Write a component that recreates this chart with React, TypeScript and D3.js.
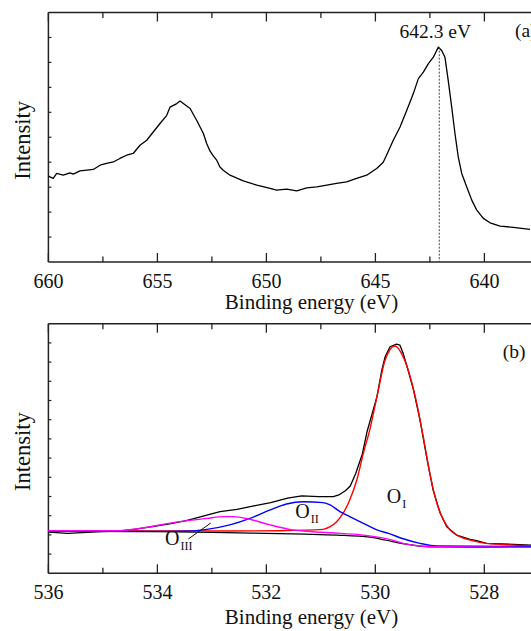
import React from "react";
import * as d3 from "d3";

// Mn 2p spectrum (panel a): binding energy (eV) and intensity (a.u.)
const mnBE = [660.0, 659.78, 659.62, 659.32, 659.01, 658.86, 658.55, 658.24, 657.94, 657.63, 657.33, 657.02, 656.72, 656.41, 656.11, 655.8, 655.49, 655.19, 654.88, 654.57, 654.42, 654.11, 653.96, 653.81, 653.5, 653.2, 652.89, 652.74, 652.59, 652.44, 652.28, 652.13, 651.98, 651.67, 651.06, 650.44, 649.83, 649.53, 649.07, 648.61, 648.15, 647.69, 647.23, 646.78, 646.32, 645.86, 645.4, 644.94, 644.64, 644.48, 644.18, 643.87, 643.56, 643.26, 643.03, 642.8, 642.57, 642.34, 642.19, 642.11, 641.96, 641.81, 641.66, 641.5, 641.35, 641.2, 641.04, 640.81, 640.58, 640.35, 640.05, 639.74, 639.28, 638.67, 637.91];
const mnInt = [3.44, 3.35, 3.55, 3.48, 3.57, 3.52, 3.65, 3.68, 3.71, 3.88, 3.95, 4.01, 4.15, 4.28, 4.35, 4.68, 4.88, 5.21, 5.55, 5.88, 6.21, 6.35, 6.45, 6.35, 6.15, 5.68, 5.15, 4.75, 4.45, 4.25, 4.08, 3.81, 3.68, 3.48, 3.25, 3.08, 2.95, 2.88, 2.92, 2.85, 2.97, 3.01, 3.08, 3.15, 3.21, 3.35, 3.48, 3.75, 4.0, 4.3, 4.88, 5.41, 6.08, 6.75, 7.35, 7.61, 7.95, 8.21, 8.48, 8.61, 8.48, 8.21, 7.28, 6.21, 5.15, 4.21, 3.55, 3.01, 2.48, 2.08, 1.75, 1.57, 1.44, 1.39, 1.31];
const mnPeak = 642.07;
const mnPeakInt = 8.61;
const mnPeakLabel = "642.3 eV";

// O 1s spectrum (panel b): measured envelope, background and fitted components
const oBE = [535.99, 535.65, 535.02, 534.71, 534.4, 534.09, 533.78, 533.47, 533.16, 532.85, 532.54, 532.23, 531.92, 531.61, 531.35, 531.04, 530.77, 530.67, 530.55, 530.46, 530.36, 530.24, 530.15, 530.04, 529.97, 529.88, 529.82, 529.73, 529.61, 529.55, 529.49, 529.4, 529.3, 529.18, 529.06, 528.94, 528.81, 528.69, 528.51, 528.26, 528.14, 527.96, 527.14];
const oInt = [2.14, 2.08, 2.17, 2.2, 2.3, 2.43, 2.57, 2.74, 2.98, 3.21, 3.33, 3.51, 3.68, 3.91, 4.03, 3.99, 3.99, 4.08, 4.3, 4.55, 5.2, 6.2, 7.4, 8.5, 9.2, 10.59, 11.28, 11.8, 11.94, 11.89, 11.46, 10.59, 9.55, 7.98, 6.07, 4.34, 3.13, 2.43, 1.99, 1.77, 1.7, 1.56, 1.47];

const bgBE = [536, 535, 534, 533, 532, 531.3, 530.7, 530.1, 529.8, 529.5, 529.2, 528.8, 527.1];
const bgInt = [2.2, 2.19, 2.17, 2.13, 2.08, 2.04, 1.99, 1.88, 1.72, 1.55, 1.42, 1.37, 1.35];

const o1BE = [536, 534, 532.67, 531.75, 530.96, 530.83, 530.71, 530.59, 530.47, 530.34, 530.22, 530.1, 529.97, 529.82, 529.64, 529.49, 529.36, 529.24, 529.12, 529.0, 528.87, 528.75, 528.63, 528.45, 528.26, 527.96, 527.14];
const o1Int = [2.22, 2.21, 2.2, 2.22, 2.29, 2.43, 2.69, 3.13, 3.82, 4.86, 6.25, 7.5, 9.2, 11.11, 11.84, 11.28, 10.24, 8.85, 7.11, 5.21, 3.65, 2.78, 2.26, 1.91, 1.73, 1.56, 1.44];

const o2BE = [536, 534.5, 533.58, 533.09, 532.67, 532.3, 531.93, 531.63, 531.32, 530.96, 530.83, 530.65, 530.47, 530.22, 529.97, 529.76, 529.49, 529.18, 528.87, 527.14];
const o2Int = [2.2, 2.18, 2.19, 2.29, 2.52, 2.86, 3.3, 3.61, 3.73, 3.68, 3.56, 3.21, 2.95, 2.6, 2.26, 2.08, 1.8, 1.56, 1.42, 1.39];

const o3BE = [536, 534.75, 534.32, 533.71, 533.09, 532.79, 532.61, 532.3, 531.93, 531.57, 531.32, 530.83, 530.22, 529.76, 529.49, 529.18, 528.87, 527.14];
const o3Int = [2.22, 2.22, 2.34, 2.64, 2.86, 2.95, 2.95, 2.81, 2.52, 2.29, 2.2, 2.11, 1.99, 1.78, 1.56, 1.42, 1.39, 1.35];

const topMajor = [660, 655, 650, 645, 640];
const topMinor = [657.5, 652.5, 647.5, 642.5, 637.5];
const botMajor = [536, 534, 532, 530, 528];
const botMinor = [535, 533, 531, 529, 527];

const FONT = "Liberation Serif, Times New Roman, serif";
const AXIS = "#222";
const LEFT = 48.4;
const TITLE_X = 311.5;

type Pt = [number, number];
const zip = (xs: number[], ys: number[]): Pt[] => xs.map((x, i) => [x, ys[i]]);

function Frame({ x, y, major, minor, top, bottom, titleY }: {
  x: d3.ScaleLinear<number, number>;
  y: d3.ScaleLinear<number, number>;
  major: number[];
  minor: number[];
  top: number;
  bottom: number;
  titleY: number;
}) {
  const [x0, x1] = x.range();
  const yTicks = y.ticks(y.domain()[1]).filter((t) => t > 0 && t < y.domain()[1]);
  return (
    <g>
      <line x1={x0} x2={x1} y1={bottom} y2={bottom} stroke={AXIS} strokeWidth={1.5} />
      <line x1={x0} x2={x1} y1={top} y2={top} stroke={AXIS} strokeWidth={1.5} />
      <line x1={x0} x2={x0} y1={top} y2={bottom} stroke={AXIS} strokeWidth={1.5} />
      {major.map((v) => (
        <g key={"M" + v}>
          <line x1={x(v)} x2={x(v)} y1={bottom} y2={bottom - 9} stroke={AXIS} strokeWidth={1.3} />
          <line x1={x(v)} x2={x(v)} y1={top} y2={top + 9} stroke={AXIS} strokeWidth={1.3} />
          <text x={x(v)} y={bottom + 26} textAnchor="middle" fontSize={20} fill="#111">{v}</text>
        </g>
      ))}
      {minor.map((v) => (
        <g key={"m" + v}>
          <line x1={x(v)} x2={x(v)} y1={bottom} y2={bottom - 5.5} stroke={AXIS} strokeWidth={1.3} />
          <line x1={x(v)} x2={x(v)} y1={top} y2={top + 5.5} stroke={AXIS} strokeWidth={1.3} />
        </g>
      ))}
      {yTicks.map((t) => (
        <line key={"y" + t} x1={x0} x2={x0 + 3} y1={y(t)} y2={y(t)} stroke={AXIS} strokeWidth={1.2} />
      ))}
      <text x={TITLE_X} y={titleY} textAnchor="middle" fontSize={21} fill="#111">Binding energy (eV)</text>
      <text transform={`translate(30,${(top + bottom) / 2 + 3}) rotate(-90)`} textAnchor="middle" fontSize={22.5} fill="#111">
        Intensity
      </text>
    </g>
  );
}

export default function App() {
  // panel (a)
  const xa = d3.scaleLinear().domain([660, 636]).range([LEFT, LEFT + 24 * 21.8]);
  const ya = d3.scaleLinear().domain([0, 10]).range([262, 12.5]);
  const lineA = d3.line<Pt>().x((d) => xa(d[0])).y((d) => ya(d[1]));

  // panel (b)
  const xb = d3.scaleLinear().domain([536, 526.5]).range([LEFT, LEFT + 9.5 * 54.49]);
  const yb = d3.scaleLinear().domain([0, 13]).range([573.3, 323.7]);
  const lineB = d3.line<Pt>().x((d) => xb(d[0])).y((d) => yb(d[1]));
  const smooth = d3.line<Pt>().x((d) => xb(d[0])).y((d) => yb(d[1])).curve(d3.curveMonotoneX);

  const comp = (be: number, inten: number, sub: string) => (
    <text key={sub} x={xb(be)} y={yb(inten)} fontSize={20} fill="#111">
      O<tspan fontSize={12} dx={1} dy={5}>{sub}</tspan>
    </text>
  );

  return (
    <svg
      width={531}
      height={631}
      style={{ position: "absolute", left: 0, top: 0, background: "#fff", fontFamily: FONT }}
    >
      <Frame x={xa} y={ya} major={topMajor} minor={topMinor} top={12.5} bottom={262} titleY={309} />
      <path d={lineA(zip(mnBE, mnInt)) || ""} fill="none" stroke="#000" strokeWidth={1.3} strokeLinejoin="round" />
      <line x1={xa(mnPeak)} x2={xa(mnPeak)} y1={ya(mnPeakInt)} y2={ya(0)} stroke="#444" strokeWidth={1} strokeDasharray="2,1.5" />
      <text x={xa(642.25)} y={ya(8.98)} textAnchor="middle" fontSize={19.5} fill="#111">{mnPeakLabel}</text>
      <text x={xa(638.6)} y={ya(9.0)} fontSize={19.5} fill="#111">(a)</text>

      <Frame x={xb} y={yb} major={botMajor} minor={botMinor} top={323.7} bottom={573.3} titleY={624} />
      <path d={lineB(zip(oBE, oInt)) || ""} fill="none" stroke="#000" strokeWidth={1.3} strokeLinejoin="round" />
      <path d={smooth(zip(bgBE, bgInt)) || ""} fill="none" stroke="#000" strokeWidth={1.2} />
      <path d={smooth(zip(o1BE, o1Int)) || ""} fill="none" stroke="#ff0000" strokeWidth={1.4} />
      <path d={smooth(zip(o2BE, o2Int)) || ""} fill="none" stroke="#0000ff" strokeWidth={1.4} />
      <path d={smooth(zip(o3BE, o3Int)) || ""} fill="none" stroke="#ff00ff" strokeWidth={1.4} />
      {comp(529.79, 3.65, "I")}
      {comp(531.47, 2.86, "II")}
      {comp(533.86, 1.47, "III")}
      <line x1={xb(533.43)} y1={yb(1.79)} x2={xb(533.02)} y2={yb(2.62)} stroke="#111" strokeWidth={1} />
      <text x={xb(527.66)} y={yb(11.21)} fontSize={19.5} fill="#111">(b)</text>
    </svg>
  );
}
